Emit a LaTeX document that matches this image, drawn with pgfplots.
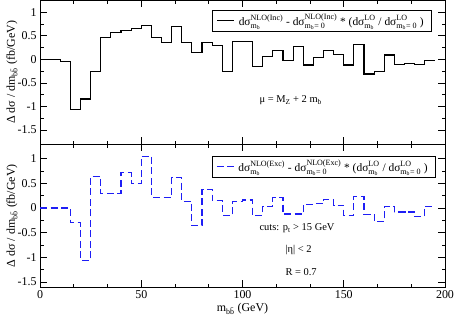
\documentclass[border=0pt]{standalone}
\usepackage{fontspec}
\setmainfont{Liberation Serif}
\usepackage{amsmath}
\usepackage{pgfplots}
\pgfplotsset{compat=1.18}
\definecolor{dashblue}{RGB}{30,30,245}
\pgfplotsset{
  panel/.style={
    scale only axis, width=405bp,
    xmin=0, xmax=200,
    xtick={0,50,100,150,200},
    minor x tick num=2,
    ytick={-1.5,-1,-0.5,0,0.5,1},
    minor y tick num=1,
    tick align=inside,
    xtick pos=both, ytick pos=both,
    xticklabel pos=lower, yticklabel pos=left,
    major tick length=7bp, minor tick length=3.5bp,
    every tick/.style={black, line width=0.6bp},
    axis line style={line width=0.8bp},
    tick label style={font=\fontsize{12}{14}\selectfont},
    /pgf/number format/assume math mode=true,
    ylabel={Δ dσ / dm$_{\text{b\={b}}}$ (fb/GeV)},
    ylabel style={at={(axis description cs:-0.069,0.5)}, anchor=center, font=\fontsize{12}{14}\selectfont},
    legend style={draw=black, line width=0.6bp, font=\fontsize{11.5}{13}\selectfont, legend cell align=left, inner xsep=4bp, inner ysep=2bp,
      nodes={inner xsep=4bp}},
  }
}
\newcommand{\ms}{\text{m}_{\text{b}}}
\begin{document}
\begin{tikzpicture}
\path[use as bounding box] (-40bp,-30.3bp) rectangle (415bp,287bp);
\begin{axis}[panel, at={(0,142.7bp)}, anchor=south west, height=144bp,
  ymin=-1.8, ymax=1.25, xticklabels={},
  legend style={at={(0.968,0.935)}, anchor=north east}]
\addplot[const plot mark left, black, line width=1.2bp] coordinates {
(0,0) (5,0) (10,-0.05) (15,-1.06) (20,-0.84) (25,-0.26) (30,0.46) (35,0.57)
(40,0.61) (45,0.645) (50,0.72) (55,0.47) (60,0.35) (65,0.69) (70,0.35) (75,0.14)
(80,0.35) (85,0.30) (90,-0.25) (95,0.375) (100,0.375) (105,-0.16) (110,0.055) (115,0.18)
(120,-0.03) (125,0.27) (130,-0.12) (135,0.04) (140,0.18) (145,0.105) (150,-0.12) (155,0.32)
(160,-0.31) (165,-0.26) (170,0.09) (175,-0.11) (180,-0.085) (185,-0.11) (190,-0.03) (195,-0.03)
};
\addlegendentry{$\text{dσ}^{\text{NLO(Inc)}}_{\ms}\ \text{-}\ \text{dσ}^{\text{NLO(Inc)}}_{\ms\text{= 0}}\ \text{* (}\text{dσ}^{\text{LO}}_{\ms}\ \text{/}\ \text{dσ}^{\text{LO}}_{\ms\text{= 0}}\ \text{)}$}
\node[anchor=west, font=\fontsize{10.5}{12}\selectfont] at (axis cs:106.7,-0.87) {μ = M$_\text{Z}$ + 2 m$_\text{b}$};
\end{axis}
\begin{axis}[panel, at={(0,0)}, anchor=south west, height=142.7bp,
  ymin=-1.6, ymax=1.29,
  xlabel={m$_{\text{b\={b}}}$ (GeV)},
  xlabel style={at={(axis description cs:0.5,-0.155)}, anchor=center, font=\fontsize{12}{14}\selectfont},
  legend style={at={(0.978,0.92)}, anchor=north east}]
\addplot[const plot mark left, dashblue, line width=1.2bp, dash pattern=on 7bp off 3.5bp] coordinates {
(0,0) (5,0) (10,0) (15,-0.30) (20,-1.06) (25,0.64) (30,0.29) (35,0.29)
(40,0.715) (45,0.49) (50,1.05) (55,0.22) (60,0.22) (65,0.61) (70,0.135) (75,-0.36)
(80,0.38) (85,0.15) (90,-0.15) (95,0.13) (100,0.16) (105,-0.15) (110,0.035) (115,0.21)
(120,-0.12) (125,-0.12) (130,0.075) (135,0.09) (140,0.17) (145,0.055) (150,-0.15) (155,0.24)
(160,-0.13) (165,-0.28) (170,0.035) (175,-0.08) (180,-0.08) (185,-0.17) (190,0.035) (195,0.035)
};
\addlegendentry{$\text{dσ}^{\text{NLO(Exc)}}_{\ms}\ \text{-}\ \text{dσ}^{\text{NLO(Exc)}}_{\ms\text{= 0}}\ \text{* (}\text{dσ}^{\text{LO}}_{\ms}\ \text{/}\ \text{dσ}^{\text{LO}}_{\ms\text{= 0}}\ \text{)}$}
\node[anchor=west, font=\fontsize{10.5}{12}\selectfont] at (axis cs:106.7,-0.41) {cuts: p$_\text{t}$ > 15 GeV};
\node[anchor=west, font=\fontsize{10.5}{12}\selectfont] at (axis cs:119.5,-0.855) {|η| < 2};
\node[anchor=west, font=\fontsize{10.5}{12}\selectfont] at (axis cs:119.5,-1.3) {R = 0.7};
\end{axis}
\end{tikzpicture}
\end{document}
